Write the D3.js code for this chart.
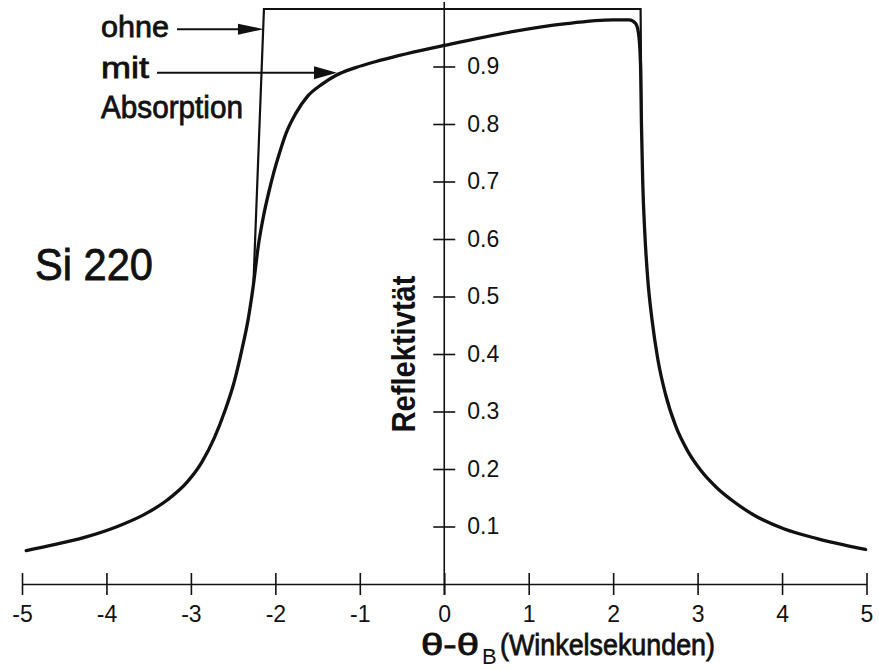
<!DOCTYPE html>
<html>
<head>
<meta charset="utf-8">
<script src="https://cdn.jsdelivr.net/npm/d3@7"></script>
<style>
  html, body { margin: 0; padding: 0; background: #fff; }
  svg { display: block; }
  text { font-family: "Liberation Sans", Arial, sans-serif; fill: #111; }
  .label { stroke: #111; stroke-width: 0.8px; }
</style>
</head>
<body>
<svg id="chart" width="879" height="670"></svg>
<script>
// Angle offset from the Bragg angle (arc seconds)
const xTicks = [-5, -4, -3, -2, -1, 0, 1, 2, 3, 4, 5];
const xTickLabels = ["-5", "-4", "-3", "-2", "-1", "0", "1", "2", "3", "4", "5"];
const yTicks = [0.1, 0.2, 0.3, 0.4, 0.5, 0.6, 0.7, 0.8, 0.9];
const yTickLabels = ["0.1", "0.2", "0.3", "0.4", "0.5", "0.6", "0.7", "0.8", "0.9"];

// Reflectivity with absorption ("mit Absorption")
const mitTheta = [-4.95, -4.66, -4.26, -3.87, -3.55, -3.28, -3.04, -2.87, -2.72, -2.60,
                  -2.49, -2.40, -2.32, -2.26, -2.20, -2.14, -2.08, -2.02, -1.95, -1.87,
                  -1.76, -1.62, -1.45, -1.29, -1.05, -0.75, 0.075, 0.825, 1.42, 2.0,
                  2.19, 2.265, 2.30, 2.325, 2.335, 2.35, 2.375, 2.41, 2.46, 2.53,
                  2.62, 2.74, 2.88, 3.03, 3.23, 3.43, 3.665, 4.02, 4.415, 4.73, 4.99];
const mitR = [0.058, 0.067, 0.081, 0.100, 0.121, 0.146, 0.178, 0.212, 0.255, 0.300,
              0.350, 0.405, 0.462, 0.520, 0.590, 0.640, 0.680, 0.715, 0.750, 0.785,
              0.818, 0.848, 0.869, 0.884, 0.898, 0.911, 0.939, 0.961, 0.974, 0.981,
              0.981, 0.975, 0.958, 0.900, 0.800, 0.700, 0.610, 0.530, 0.460, 0.390,
              0.330, 0.275, 0.232, 0.199, 0.167, 0.143, 0.120, 0.096, 0.079, 0.068, 0.060];

// Total-reflection plateau without absorption ("ohne"); its tails coincide with the curve above
const ohneTheta = [-2.26, -2.135, 2.325, 2.335];
const ohneR = [0.520, 1.0, 1.0, 0.80];

const svg = d3.select("#chart");
const x = d3.scaleLinear().domain([-5, 5]).range([22, 866.5]);
const y = d3.scaleLinear().domain([0, 1]).range([584, 9]);

// ---- x axis with ticks crossing the line ----
const xAxis = d3.axisBottom(x)
  .tickValues(xTicks)
  .tickFormat((d, i) => xTickLabels[i])
  .tickSizeInner(11)
  .tickSizeOuter(0);
const gx = svg.append("g").attr("transform", `translate(0,${y(0)})`).call(xAxis);
gx.select(".domain").attr("stroke", "#111").attr("stroke-width", 1.6);
gx.selectAll(".tick line").attr("y1", -11).attr("y2", 11).attr("stroke", "#111").attr("stroke-width", 1.6);
gx.selectAll(".tick text")
  .attr("y", 38).attr("dy", 0)
  .style("font-size", "23px")
  .style("font-family", '"Liberation Sans", Arial, sans-serif')
  .attr("fill", "#111");

// ---- vertical reflectivity axis through zero ----
const x0 = x(0);
svg.append("line")
  .attr("x1", x0).attr("x2", x0)
  .attr("y1", 2).attr("y2", y(0) + 11)
  .attr("stroke", "#111").attr("stroke-width", 1.6);
const yAxis = d3.axisRight(y)
  .tickValues(yTicks)
  .tickFormat((d, i) => yTickLabels[i])
  .tickSizeInner(11)
  .tickSizeOuter(0)
  .tickPadding(12);
const gy = svg.append("g").attr("transform", `translate(${x0},0)`).call(yAxis);
gy.select(".domain").remove();
gy.selectAll(".tick line").attr("x1", -11).attr("x2", 11).attr("stroke", "#111").attr("stroke-width", 1.6);
gy.selectAll(".tick text")
  .style("font-size", "23px")
  .style("font-family", '"Liberation Sans", Arial, sans-serif')
  .attr("fill", "#111");

// ---- curves ----
const mitLine = d3.line()
  .x((d, i) => x(mitTheta[i]))
  .y((d, i) => y(mitR[i]))
  .curve(d3.curveMonotoneX);
svg.append("path")
  .datum(mitR)
  .attr("d", mitLine)
  .attr("fill", "none")
  .attr("stroke", "#111")
  .attr("stroke-width", 3.3)
  .attr("stroke-linejoin", "round")
  .attr("stroke-linecap", "round");

const ohneLine = d3.line()
  .x((d, i) => x(ohneTheta[i]))
  .y((d, i) => y(ohneR[i]));
svg.append("path")
  .datum(ohneR)
  .attr("d", ohneLine)
  .attr("fill", "none")
  .attr("stroke", "#111")
  .attr("stroke-width", 2.2)
  .attr("stroke-linejoin", "miter");

// ---- labelled arrows ----
function arrow(x1, tipX, tipY, headLen, headHalf) {
  svg.append("line")
    .attr("x1", x1).attr("y1", tipY)
    .attr("x2", tipX - headLen + 2).attr("y2", tipY)
    .attr("stroke", "#111").attr("stroke-width", 2);
  svg.append("path")
    .attr("d", `M${tipX},${tipY} L${tipX - headLen},${tipY - headHalf} L${tipX - headLen},${tipY + headHalf} Z`)
    .attr("fill", "#111");
}
arrow(177, x(-2.135), y(0.965), 26, 5.5);
arrow(157, x(-1.27), y(0.889), 23, 6.5);

svg.append("text").attr("class", "label").attr("x", 101).attr("y", 37)
  .style("font-size", "30px").attr("textLength", 68).attr("lengthAdjust", "spacingAndGlyphs")
  .text("ohne");
svg.append("text").attr("class", "label").attr("x", 101).attr("y", 78)
  .style("font-size", "30px").attr("textLength", 48).attr("lengthAdjust", "spacingAndGlyphs")
  .text("mit");
svg.append("text").attr("class", "label").attr("x", 101).attr("y", 118)
  .style("font-size", "32px").attr("textLength", 142).attr("lengthAdjust", "spacingAndGlyphs")
  .text("Absorption");

// ---- crystal reflection label ----
svg.append("text").attr("class", "label").attr("x", 35).attr("y", 280)
  .style("font-size", "44px").attr("textLength", 118).attr("lengthAdjust", "spacingAndGlyphs")
  .text("Si 220");

// ---- axis titles ----
svg.append("text")
  .attr("transform", "translate(415,354) rotate(-90)")
  .attr("text-anchor", "middle")
  .style("font-size", "33px").style("font-weight", "bold")
  .attr("textLength", 157).attr("lengthAdjust", "spacingAndGlyphs")
  .text("Reflektivtät");

svg.append("text").attr("class", "label").attr("x", 421).attr("y", 655)
  .style("font-size", "29px").attr("textLength", 58).attr("lengthAdjust", "spacingAndGlyphs")
  .text("θ-θ");
svg.append("text").attr("x", 482).attr("y", 664)
  .style("font-size", "22px")
  .text("B");
svg.append("text").attr("class", "label").attr("x", 500).attr("y", 655)
  .style("font-size", "30px").attr("textLength", 215).attr("lengthAdjust", "spacingAndGlyphs")
  .text("(Winkelsekunden)");
</script>
</body>
</html>
